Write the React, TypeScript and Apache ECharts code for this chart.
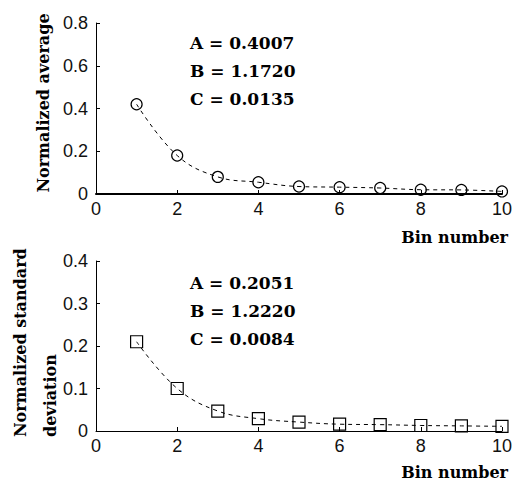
import React, { useEffect, useRef } from "react";
import * as echarts from "echarts";

const bins = [1, 2, 3, 4, 5, 6, 7, 8, 9, 10];
const avgValues = [0.42, 0.18, 0.08, 0.055, 0.035, 0.032, 0.028, 0.02, 0.019, 0.012];
const stdValues = [0.21, 0.1, 0.047, 0.029, 0.021, 0.016, 0.015, 0.013, 0.012, 0.011];
const avgParams = ["A = 0.4007", "B = 1.1720", "C = 0.0135"];
const stdParams = ["A = 0.2051", "B = 1.2220", "C = 0.0084"];
const xTicks = [0, 2, 4, 6, 8, 10];
const avgTicks = [0, 0.2, 0.4, 0.6, 0.8];
const stdTicks = [0, 0.1, 0.2, 0.3, 0.4];

const SERIF = "'DejaVu Serif', serif";
const SANS = "'Liberation Sans', Arial, sans-serif";

export default function App() {
  const ref = useRef<HTMLDivElement>(null);
  useEffect(() => {
    if (!ref.current) return;
    const chart = echarts.init(ref.current, null, { renderer: "svg" });
    const xAxisBase = (idx: number, lw: number) => ({
      type: "value",
      gridIndex: idx,
      min: xTicks[0],
      max: xTicks[xTicks.length - 1],
      interval: xTicks[1] - xTicks[0],
      axisLine: { lineStyle: { color: "#000", width: lw } },
      axisTick: { inside: true, length: 4, lineStyle: { color: "#000" } },
      axisLabel: { color: "#111", fontFamily: SANS, fontSize: 18, margin: 6 },
      splitLine: { show: false },
    });
    const yAxisBase = (idx: number, ticks: number[]) => ({
      type: "value",
      gridIndex: idx,
      min: ticks[0],
      max: ticks[ticks.length - 1],
      interval: ticks[1] - ticks[0],
      axisLine: { show: true, lineStyle: { color: "#000" } },
      axisTick: { show: true, inside: true, length: 4, lineStyle: { color: "#000" } },
      axisLabel: {
        color: "#111",
        fontFamily: SANS,
        fontSize: 18,
        margin: 8,
        formatter: (v: number) => (v === 0 ? "0" : v.toFixed(1)),
      },
      splitLine: { show: false },
    });
    const paramTexts = (params: string[], y0: number) =>
      params.map((t, i) => ({
        type: "text",
        left: 190,
        top: y0 + i * 28,
        style: { text: t, fontFamily: SERIF, fontWeight: "bold", fontSize: 17, fill: "#000" },
      }));
    const seriesBase = (idx: number, data: number[], symbol: string, size: number) => ({
      type: "line",
      xAxisIndex: idx,
      yAxisIndex: idx,
      data: bins.map((b, i) => [b, data[i]]),
      smooth: 0.4,
      symbol,
      symbolSize: size,
      showAllSymbol: true,
      lineStyle: { color: "#000", width: 1, type: [4, 4] },
      itemStyle: { color: "rgba(255,255,255,0)", borderColor: "#000", borderWidth: 1.2 },
      z: 3,
    });
    const vText = (text: string, x: number, y: number, align: string) => ({
      type: "text",
      x,
      y,
      rotation: Math.PI / 2,
      style: {
        text,
        fontFamily: SERIF,
        fontWeight: "bold",
        fontSize: 16,
        fill: "#000",
        align,
        verticalAlign: "middle",
      },
    });
    const binText = (y: number) => ({
      type: "text",
      x: 508,
      y,
      style: {
        text: "Bin number",
        fontFamily: SERIF,
        fontWeight: "bold",
        fontSize: 16,
        fill: "#000",
        align: "right",
        verticalAlign: "middle",
      },
    });
    chart.setOption({
      animation: false,
      backgroundColor: "#fff",
      grid: [
        { left: 96, top: 23, width: 410, height: 171 },
        { left: 96, top: 261, width: 410, height: 170 },
      ],
      xAxis: [xAxisBase(0, 2), xAxisBase(1, 1)],
      yAxis: [yAxisBase(0, avgTicks), yAxisBase(1, stdTicks)],
      series: [
        seriesBase(0, avgValues, "circle", 11),
        seriesBase(1, stdValues, "rect", 12),
      ],
      graphic: [
        ...paramTexts(avgParams, 34),
        ...paramTexts(stdParams, 274),
        vText("Normalized average", 43, 103, "center"),
        vText("Normalized standard", 20, 437, "left"),
        vText("deviation", 50, 437, "left"),
        binText(237),
        binText(472),
      ],
    });
    return () => chart.dispose();
  }, []);
  return (
    <div
      ref={ref}
      style={{ position: "absolute", left: 0, top: 0, width: 515, height: 486 }}
    />
  );
}
